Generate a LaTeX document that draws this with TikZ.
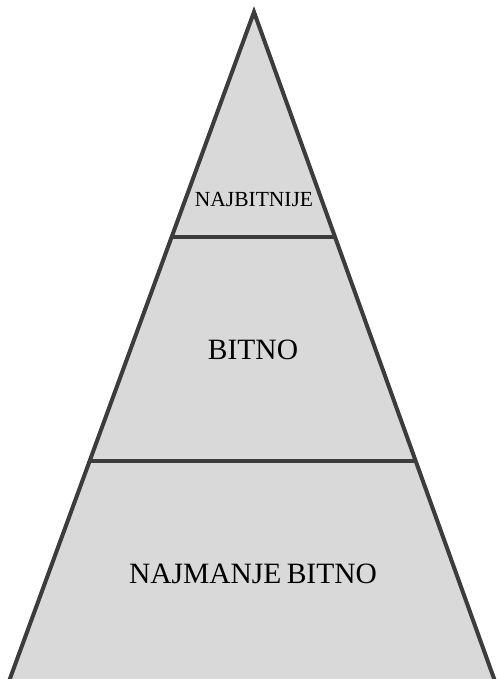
\documentclass[tikz,border=0pt]{standalone}
\usepackage{fontspec}
\setmainfont{Liberation Serif}
\usetikzlibrary{calc}
\definecolor{pirfill}{HTML}{D9D9D9}
\definecolor{pirline}{HTML}{3C3C3C}
\begin{document}
\begin{tikzpicture}[x=1pt,y=-1pt]
\useasboundingbox (0,0) rectangle (497,679);
\clip (0,0) rectangle (497,679);
\coordinate (apex) at (254,12);
\coordinate (bl) at (8,684);
\coordinate (br) at (496,684);
\fill[pirfill] (apex) -- (bl) -- (br) -- cycle;
\draw[pirline,line width=4pt] (bl) -- (apex) -- (br);
\draw[pirline,line width=4pt] ($(apex)!0.335!(bl)$) -- ($(apex)!0.335!(br)$);
\draw[pirline,line width=4pt] ($(apex)!0.668!(bl)$) -- ($(apex)!0.668!(br)$);
\node[font=\fontsize{21.5}{23}\selectfont] (top) at (254,200) {NAJBITNIJE};
\node[font=\fontsize{29.5}{32}\selectfont] (mid) at (253,350) {BITNO};
\node[font=\fontsize{29.5}{32}\selectfont] (low) at (253,574) {NAJMANJE\hspace{-2pt} BITNO};
\end{tikzpicture}
\end{document}
